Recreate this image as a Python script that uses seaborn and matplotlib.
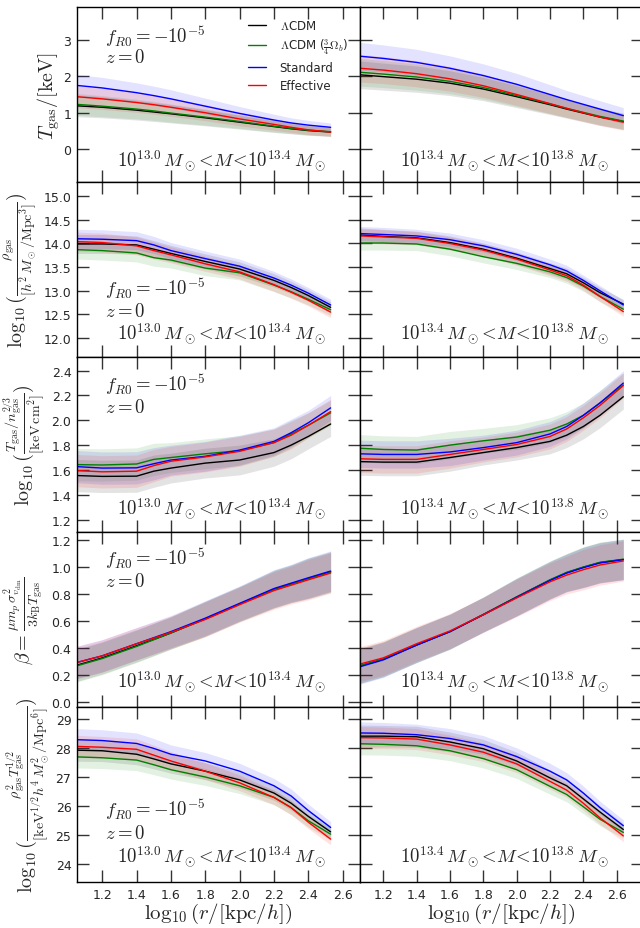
import numpy as np
import seaborn as sns
import matplotlib
matplotlib.use('Agg')
import matplotlib.pyplot as plt
from matplotlib.lines import Line2D

# radial bins (log10 r [kpc/h]) for the two mass bins
x_lo = [1.05, 1.2, 1.4, 1.5, 1.6, 1.8, 2.0, 2.2, 2.3, 2.4, 2.53]
x_hi = [1.06, 1.2, 1.4, 1.6, 1.8, 2.0, 2.2, 2.3, 2.4, 2.5, 2.64]

# gas temperature
T_lo_lcdm = [1.19, 1.15, 1.07, 1.02, 0.97, 0.86, 0.74, 0.62, 0.56, 0.51, 0.47]
T_lo_lcdm34 = [1.23, 1.18, 1.10, 1.05, 0.99, 0.88, 0.76, 0.63, 0.57, 0.52, 0.48]
T_lo_std = [1.75, 1.68, 1.55, 1.47, 1.38, 1.18, 0.98, 0.80, 0.72, 0.66, 0.60]
T_lo_eff = [1.44, 1.38, 1.28, 1.22, 1.15, 1.00, 0.83, 0.68, 0.60, 0.53, 0.47]
T_lo_err = [0.30, 0.29, 0.27, 0.26, 0.25, 0.22, 0.19, 0.16, 0.14, 0.13, 0.12]

T_hi_lcdm = [2.04, 1.99, 1.92, 1.81, 1.65, 1.44, 1.22, 1.10, 0.99, 0.88, 0.76]
T_hi_lcdm34 = [2.11, 2.06, 1.98, 1.86, 1.69, 1.47, 1.24, 1.12, 1.01, 0.90, 0.77]
T_hi_std = [2.55, 2.49, 2.38, 2.22, 2.02, 1.78, 1.50, 1.36, 1.23, 1.10, 0.92]
T_hi_eff = [2.22, 2.17, 2.07, 1.93, 1.74, 1.50, 1.25, 1.12, 1.00, 0.88, 0.74]
T_hi_err = [0.38, 0.37, 0.36, 0.34, 0.32, 0.30, 0.27, 0.25, 0.24, 0.23, 0.22]

# gas density
rho_lo_lcdm = [13.99, 13.99, 13.97, 13.88, 13.79, 13.62, 13.46, 13.22, 13.07, 12.90, 12.65]
rho_lo_lcdm34 = [13.87, 13.85, 13.80, 13.70, 13.65, 13.48, 13.38, 13.12, 12.98, 12.82, 12.60]
rho_lo_std = [14.10, 14.09, 14.06, 13.97, 13.85, 13.68, 13.52, 13.27, 13.12, 12.95, 12.70]
rho_lo_eff = [14.04, 14.02, 13.95, 13.85, 13.76, 13.57, 13.40, 13.13, 12.97, 12.80, 12.55]
rho_lo_err = [0.20, 0.20, 0.19, 0.18, 0.17, 0.16, 0.15, 0.14, 0.13, 0.12, 0.12]

rho_hi_lcdm = [14.18, 14.15, 14.12, 14.02, 13.88, 13.69, 13.47, 13.36, 13.17, 12.96, 12.72]
rho_hi_lcdm34 = [14.01, 14.01, 13.99, 13.88, 13.72, 13.58, 13.40, 13.28, 13.10, 12.88, 12.61]
rho_hi_std = [14.21, 14.19, 14.16, 14.08, 13.95, 13.77, 13.55, 13.42, 13.22, 13.00, 12.70]
rho_hi_eff = [14.16, 14.14, 14.11, 14.00, 13.86, 13.67, 13.44, 13.32, 13.12, 12.88, 12.56]
rho_hi_err = [0.15, 0.15, 0.14, 0.14, 0.13, 0.13, 0.12, 0.12, 0.11, 0.11, 0.10]

# entropy
K_lo_lcdm = [1.555, 1.548, 1.55, 1.59, 1.615, 1.655, 1.68, 1.74, 1.80, 1.87, 1.97]
K_lo_lcdm34 = [1.643, 1.64, 1.648, 1.685, 1.70, 1.73, 1.756, 1.82, 1.89, 1.96, 2.06]
K_lo_std = [1.627, 1.615, 1.617, 1.65, 1.68, 1.71, 1.76, 1.83, 1.90, 1.98, 2.10]
K_lo_eff = [1.595, 1.585, 1.59, 1.635, 1.67, 1.705, 1.75, 1.82, 1.88, 1.96, 2.07]
K_lo_err = [0.13, 0.13, 0.13, 0.13, 0.12, 0.12, 0.12, 0.11, 0.11, 0.10, 0.10]

K_hi_lcdm = [1.667, 1.663, 1.663, 1.70, 1.74, 1.78, 1.83, 1.88, 1.95, 2.04, 2.19]
K_hi_lcdm34 = [1.775, 1.765, 1.76, 1.80, 1.835, 1.865, 1.92, 1.97, 2.04, 2.14, 2.285]
K_hi_std = [1.73, 1.725, 1.725, 1.745, 1.78, 1.82, 1.89, 1.95, 2.04, 2.14, 2.30]
K_hi_eff = [1.69, 1.685, 1.685, 1.725, 1.765, 1.805, 1.87, 1.93, 2.02, 2.12, 2.28]
K_hi_err = [0.11, 0.11, 0.11, 0.11, 0.10, 0.10, 0.10, 0.10, 0.10, 0.10, 0.10]

# beta
beta_lo_lcdm = [0.27, 0.325, 0.415, 0.462, 0.51, 0.615, 0.725, 0.835, 0.875, 0.915, 0.965]
beta_lo_lcdm34 = [0.265, 0.32, 0.41, 0.46, 0.51, 0.615, 0.725, 0.835, 0.875, 0.915, 0.96]
beta_lo_std = [0.29, 0.34, 0.43, 0.475, 0.52, 0.62, 0.73, 0.84, 0.88, 0.92, 0.97]
beta_lo_eff = [0.29, 0.34, 0.43, 0.472, 0.515, 0.61, 0.72, 0.825, 0.865, 0.905, 0.955]
beta_lo_err = [0.12, 0.12, 0.12, 0.12, 0.12, 0.13, 0.13, 0.14, 0.14, 0.15, 0.15]

beta_hi_lcdm = [0.266, 0.315, 0.42, 0.52, 0.647, 0.777, 0.903, 0.958, 0.998, 1.033, 1.056]
beta_hi_lcdm34 = [0.266, 0.315, 0.422, 0.52, 0.648, 0.778, 0.905, 0.96, 1.0, 1.035, 1.058]
beta_hi_std = [0.259, 0.31, 0.42, 0.52, 0.645, 0.775, 0.90, 0.955, 0.995, 1.03, 1.055]
beta_hi_eff = [0.279, 0.325, 0.43, 0.525, 0.645, 0.77, 0.89, 0.94, 0.98, 1.015, 1.045]
beta_hi_err = [0.13, 0.13, 0.13, 0.13, 0.13, 0.14, 0.14, 0.14, 0.15, 0.15, 0.15]

# rho^2 T^1/2
Y_lo_lcdm = [27.92, 27.90, 27.78, 27.62, 27.45, 27.20, 26.90, 26.45, 26.10, 25.65, 25.12]
Y_lo_lcdm34 = [27.69, 27.66, 27.58, 27.42, 27.25, 27.00, 26.70, 26.30, 25.95, 25.50, 25.04]
Y_lo_std = [28.28, 28.25, 28.15, 27.98, 27.78, 27.55, 27.20, 26.70, 26.35, 25.85, 25.27]
Y_lo_eff = [28.05, 28.02, 27.95, 27.75, 27.55, 27.20, 26.80, 26.30, 25.95, 25.45, 24.87]
Y_lo_err = [0.38, 0.37, 0.36, 0.34, 0.32, 0.29, 0.27, 0.25, 0.24, 0.22, 0.20]

Y_hi_lcdm = [28.40, 28.40, 28.38, 28.20, 27.97, 27.55, 26.97, 26.70, 26.25, 25.80, 25.20]
Y_hi_lcdm34 = [28.14, 28.12, 28.07, 27.90, 27.63, 27.25, 26.68, 26.40, 25.98, 25.55, 25.10]
Y_hi_std = [28.51, 28.50, 28.45, 28.32, 28.10, 27.70, 27.20, 26.90, 26.45, 25.95, 25.33]
Y_hi_eff = [28.35, 28.34, 28.30, 28.10, 27.85, 27.45, 26.85, 26.55, 26.10, 25.60, 24.98]
Y_hi_err = [0.38, 0.37, 0.36, 0.34, 0.32, 0.30, 0.27, 0.25, 0.24, 0.22, 0.20]

labels = [r'$\Lambda$CDM', r'$\Lambda$CDM ($\frac{3}{4}\Omega_b$)', 'Standard', 'Effective']
colors = ['black', 'green', 'blue', 'red']

ylabels = [r'$T_{\rm gas}/[\rm keV]$',
           r'$\log_{10}(\frac{\rho_{\rm gas}}{[h^2\,M_\odot/{\rm Mpc}^3]})$',
           r'$\log_{10}(\frac{T_{\rm gas}/n_{\rm gas}^{2/3}}{[{\rm keV}\,{\rm cm}^2]})$',
           r'$\beta=\frac{\mu m_p\,\sigma^2_{v_{\rm dm}}}{3k_{\rm B}T_{\rm gas}}$',
           r'$\log_{10}(\frac{\rho^2_{\rm gas}T^{1/2}_{\rm gas}}{[{\rm keV}^{1/2}h^4\,M_\odot^2/{\rm Mpc}^6]})$']
ylims = [(-0.9, 3.9), (11.6, 15.3), (1.1, 2.51), (-0.04, 1.26), (23.4, 29.4)]
yticks = [[0, 1, 2, 3], [12.0, 12.5, 13.0, 13.5, 14.0, 14.5, 15.0],
          [1.2, 1.4, 1.6, 1.8, 2.0, 2.2, 2.4], [0.0, 0.2, 0.4, 0.6, 0.8, 1.0, 1.2],
          [24, 25, 26, 27, 28, 29]]
ytickfmt = ['%d', '%.1f', '%.1f', '%.1f', '%d']
ylabelpad = [1, 3, 3, 3, 3]
# where the f_R0 / z text sits in each row (axes fraction, baseline)
info_y = [(0.80, 0.685), (0.36, 0.236), (0.81, 0.686), (0.817, 0.693), (0.38, 0.25)]
mass_y = [0.093, 0.103, 0.10, 0.114, 0.116]
mass_txt = [r'$10^{13.0}\,M_\odot\!<\!M\!<\!10^{13.4}\,M_\odot$',
            r'$10^{13.4}\,M_\odot\!<\!M\!<\!10^{13.8}\,M_\odot$']

data = [
    [(T_lo_lcdm, T_lo_lcdm34, T_lo_std, T_lo_eff, T_lo_err),
     (T_hi_lcdm, T_hi_lcdm34, T_hi_std, T_hi_eff, T_hi_err)],
    [(rho_lo_lcdm, rho_lo_lcdm34, rho_lo_std, rho_lo_eff, rho_lo_err),
     (rho_hi_lcdm, rho_hi_lcdm34, rho_hi_std, rho_hi_eff, rho_hi_err)],
    [(K_lo_lcdm, K_lo_lcdm34, K_lo_std, K_lo_eff, K_lo_err),
     (K_hi_lcdm, K_hi_lcdm34, K_hi_std, K_hi_eff, K_hi_err)],
    [(beta_lo_lcdm, beta_lo_lcdm34, beta_lo_std, beta_lo_eff, beta_lo_err),
     (beta_hi_lcdm, beta_hi_lcdm34, beta_hi_std, beta_hi_eff, beta_hi_err)],
    [(Y_lo_lcdm, Y_lo_lcdm34, Y_lo_std, Y_lo_eff, Y_lo_err),
     (Y_hi_lcdm, Y_hi_lcdm34, Y_hi_std, Y_hi_eff, Y_hi_err)],
]

sns.set_style('ticks')
plt.rcParams['font.family'] = ['DejaVu Sans']
plt.rcParams['mathtext.fontset'] = 'cm'

W, H = 640, 929
fig = plt.figure(figsize=(W / 100, H / 100), dpi=100)

xs = [x_lo, x_hi]
xlims = [(1.053, 2.701), (1.06, 2.758)]
col_x0 = [77, 360]
ax_w = 283
row_h = 175
top = 8

for i in range(5):
    for j in range(2):
        bottom_px = top + (i + 1) * row_h
        ax = fig.add_axes([col_x0[j] / W, 1 - bottom_px / H, ax_w / W, row_h / H])
        x = np.array(xs[j])
        err = np.array(data[i][j][4])
        for k in range(4):
            y = np.array(data[i][j][k])
            ax.fill_between(x, y - err, y + err, color=colors[k], alpha=0.11, lw=0)
        for k in range(4):
            sns.lineplot(x=x, y=data[i][j][k], color=colors[k], lw=1.0, ax=ax,
                         legend=False)
        ax.set_xlim(*xlims[j])
        ax.set_ylim(*ylims[i])
        ax.set_xticks([1.2, 1.4, 1.6, 1.8, 2.0, 2.2, 2.4, 2.6])
        ax.set_yticks(yticks[i])
        ax.yaxis.set_major_formatter(matplotlib.ticker.FormatStrFormatter(ytickfmt[i]))
        ax.tick_params(direction='in', length=8.5, width=1.0, top=True, right=True,
                       labelsize=9, pad=4, color='#333333')
        for s in ax.spines.values():
            s.set_linewidth(1.0)
            s.set_color('black')
        if j == 0:
            ax.set_ylabel(ylabels[i], fontsize=14.5, labelpad=ylabelpad[i])
            ax.text(0.10, info_y[i][0], r'$f_{R0}=-10^{-5}$', transform=ax.transAxes,
                    fontsize=13.5, va='baseline')
            ax.text(0.10, info_y[i][1], r'$z=0$', transform=ax.transAxes,
                    fontsize=13.5, va='baseline')
        else:
            ax.tick_params(labelleft=False)
        ax.text(0.51, mass_y[i], mass_txt[j], transform=ax.transAxes,
                fontsize=13.5, ha='center', va='baseline')
        if i == 4:
            ax.set_xlabel(r'$\log_{10}(r/[{\rm kpc}/h])$', fontsize=15, labelpad=0)
        else:
            ax.tick_params(labelbottom=False)
        if i == 0 and j == 0:
            handles = [Line2D([], [], color=c, lw=1.0) for c in colors]
            ax.legend(handles, labels, loc='upper right', frameon=False, fontsize=8.5,
                      handlelength=1.5, handletextpad=1.2, labelspacing=0.42,
                      borderaxespad=0.6)

fig.savefig('out.png', dpi=100)
